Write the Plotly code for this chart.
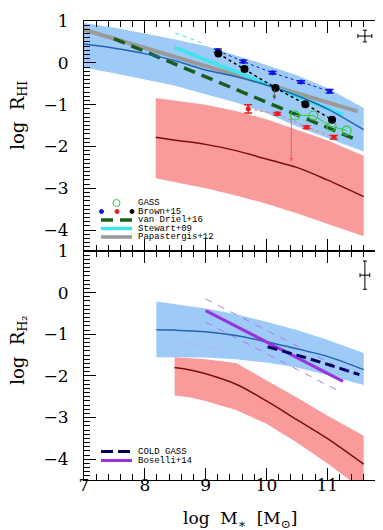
import plotly.graph_objects as go

# ---------------- data : top panel (log R_HI) ----------------
hi_band_x   = [7.0, 7.5, 8.0, 8.5, 9.0, 9.5, 10.0, 10.5, 11.0, 11.6]
hi_band_up  = [0.95, 0.84, 0.70, 0.56, 0.40, 0.18, -0.05, -0.30, -0.60, -1.08]
hi_band_lo  = [-0.12, -0.25, -0.40, -0.55, -0.75, -0.95, -1.20, -1.52, -1.80, -2.12]
hi_band_mid = [0.45, 0.35, 0.22, 0.05, -0.17, -0.33, -0.53, -0.78, -1.10, -1.60]

hi_red_x   = [8.18, 8.5, 9.0, 9.5, 10.0, 10.5, 11.0, 11.6]
hi_red_up  = [-0.84, -0.90, -1.00, -1.15, -1.35, -1.60, -1.85, -2.22]
hi_red_lo  = [-2.76, -2.85, -3.00, -3.17, -3.37, -3.60, -3.85, -4.15]
hi_red_mid = [-1.78, -1.85, -1.95, -2.10, -2.30, -2.50, -2.80, -3.20]

papastergis_x = [7.0, 11.5]
papastergis_y = [0.79, -1.16]
vandriel_x = [7.49, 11.42]
vandriel_y = [0.58, -1.80]
stewart_x = [8.49, 11.26]
stewart_y = [0.37, -1.24]
stewart_up_x = [8.50, 8.95]
stewart_up_y = [0.71, 0.47]

brown_blue_x = [9.20, 9.62, 10.10, 10.57, 11.04]
brown_blue_y = [0.29, 0.03, -0.24, -0.46, -0.68]
brown_blue_e = [0.04, 0.03, 0.03, 0.03, 0.04]
brown_black_x = [9.21, 9.64, 10.15, 10.64, 11.08]
brown_black_y = [0.22, -0.15, -0.60, -0.99, -1.36]
brown_black_e = [0.03, 0.03, 0.03, 0.03, 0.03]
brown_red_x = [9.70, 10.18, 10.66, 11.11]
brown_red_y = [-1.10, -1.22, -1.54, -1.78]
brown_red_e = [0.10, 0.03, 0.03, 0.04]
red_limit = dict(x=10.41, y0=-1.30, y1=-2.37)
black_limit = dict(x=10.13, y0=-0.62, y1=-0.88)

gass_x = [10.47, 10.77, 11.07, 11.32]
gass_y = [-1.26, -1.26, -1.52, -1.62]

hi_err_cross = dict(x=11.62, y=0.64, ex=0.115, ey=0.14)

# ---------------- data : bottom panel (log R_H2) ----------------
h2_band_x   = [8.19, 8.5, 9.0, 9.5, 10.0, 10.5, 11.0, 11.6]
h2_band_up  = [-0.21, -0.27, -0.38, -0.52, -0.70, -0.90, -1.13, -1.45]
h2_band_lo  = [-1.55, -1.55, -1.56, -1.60, -1.68, -1.80, -1.98, -2.22]
h2_band_mid = [-0.89, -0.90, -0.94, -1.03, -1.18, -1.35, -1.53, -1.85]

h2_red_x   = [8.49, 8.75, 9.0, 9.5, 10.0, 10.5, 11.0, 11.6]
h2_red_up  = [-1.55, -1.57, -1.60, -1.69, -2.10, -2.52, -2.95, -3.44]
h2_red_lo  = [-2.47, -2.52, -2.60, -2.82, -3.15, -3.60, -4.10, -4.75]
h2_red_mid = [-1.80, -1.86, -1.95, -2.20, -2.60, -3.05, -3.50, -4.12]

coldgass_x = [10.02, 10.5, 11.0, 11.53]
coldgass_y = [-1.30, -1.50, -1.72, -1.97]
boselli_x = [9.00, 11.26]
boselli_y = [-0.43, -2.13]
boselli_up_x = [9.00, 11.10]
boselli_up_y = [-0.15, -1.73]
boselli_lo_x = [9.00, 11.20]
boselli_lo_y = [-0.71, -2.37]
faint_x = [8.49, 9.26]
faint_y = [-1.12, -1.40]

h2_err_cross = dict(x=11.62, y=0.42, ex=0.08, ey=0.34)

# tick labels
x_ticks = [7, 8, 9, 10, 11]
y_ticks = [-4, -3, -2, -1, 0, 1]

# ---------------- styles ----------------
C_BAND_BLUE = "#9dcaf6"
C_BAND_RED = "#fa9b9b"
C_MID_BLUE = "#2263b4"
C_MID_RED = "#7d0c0c"
C_GRAY = "#9a9a9a"
C_CYAN = "#3fe3ea"
C_DGREEN = "#1b5e1b"
C_LGREEN = "#33cc33"
C_BLUE = "#1414e0"
C_RED = "#ee1c1c"
C_PURPLE = "#9933dd"
C_NAVY = "#00005e"

fig = go.Figure()


def band(x, up, lo, color, xa, ya):
    fig.add_trace(go.Scatter(x=list(x) + list(x)[::-1], y=list(up) + list(lo)[::-1],
                             fill="toself", fillcolor=color, line=dict(width=0),
                             mode="lines", hoverinfo="skip", showlegend=False,
                             xaxis=xa, yaxis=ya))


def line(x, y, color, width, dash="solid", xa="x", ya="y", shape="linear"):
    fig.add_trace(go.Scatter(x=x, y=y, mode="lines",
                             line=dict(color=color, width=width, dash=dash, shape=shape),
                             showlegend=False, xaxis=xa, yaxis=ya))


# ---- top panel (x2, y2) ----
band(hi_red_x, hi_red_up, hi_red_lo, C_BAND_RED, "x2", "y2")
band(hi_band_x, hi_band_up, hi_band_lo, C_BAND_BLUE, "x2", "y2")
line(hi_red_x, hi_red_mid, C_MID_RED, 1.5, xa="x2", ya="y2", shape="spline")
line(stewart_up_x, stewart_up_y, C_CYAN, 1, "4px,4px", "x2", "y2")
line(papastergis_x, papastergis_y, C_GRAY, 4, xa="x2", ya="y2")
line(stewart_x, stewart_y, C_CYAN, 3.5, xa="x2", ya="y2")
line(vandriel_x, vandriel_y, C_DGREEN, 3.5, "12px,7px", "x2", "y2")
line(hi_band_x, hi_band_mid, C_MID_BLUE, 1.5, xa="x2", ya="y2", shape="spline")

# Brown+15 points
fig.add_trace(go.Scatter(x=brown_blue_x, y=brown_blue_y, mode="lines+markers",
                         line=dict(color=C_BLUE, width=1, dash="dot"),
                         marker=dict(color=C_BLUE, size=5),
                         error_y=dict(type="data", array=brown_blue_e, color=C_BLUE, width=4, thickness=1.5),
                         showlegend=False, xaxis="x2", yaxis="y2"))
fig.add_trace(go.Scatter(x=brown_red_x, y=brown_red_y, mode="lines+markers",
                         line=dict(color="#f07070", width=1, dash="dot"),
                         marker=dict(color=C_RED, size=5),
                         error_y=dict(type="data", array=brown_red_e, color=C_RED, width=4, thickness=1.5),
                         showlegend=False, xaxis="x2", yaxis="y2"))
fig.add_trace(go.Scatter(x=gass_x, y=gass_y, mode="lines+markers",
                         line=dict(color=C_LGREEN, width=1),
                         marker=dict(color=C_LGREEN, size=9, symbol="circle-open",
                                     line=dict(color=C_LGREEN, width=1.2)),
                         showlegend=False, xaxis="x2", yaxis="y2"))
fig.add_trace(go.Scatter(x=brown_black_x, y=brown_black_y, mode="lines+markers",
                         line=dict(color="black", width=1.5, dash="dot"),
                         marker=dict(color="black", size=8),
                         error_y=dict(type="data", array=brown_black_e, color="black", width=3, thickness=1.5),
                         showlegend=False, xaxis="x2", yaxis="y2"))
fig.add_trace(go.Scatter(x=[hi_err_cross["x"]], y=[hi_err_cross["y"]], mode="markers",
                         marker=dict(size=1, color="black"),
                         error_x=dict(type="data", array=[hi_err_cross["ex"]], color="black", width=2, thickness=1),
                         error_y=dict(type="data", array=[hi_err_cross["ey"]], color="black", width=2, thickness=1),
                         showlegend=False, xaxis="x2", yaxis="y2"))

# ---- bottom panel (x, y) ----
band(h2_band_x, h2_band_up, h2_band_lo, C_BAND_BLUE, "x", "y")
band(h2_red_x, h2_red_up, h2_red_lo, C_BAND_RED, "x", "y")
line(h2_red_x, h2_red_mid, C_MID_RED, 1.5, shape="spline")
line(faint_x, faint_y, "#c9a0f0", 1, "2px,3px")
line(boselli_up_x, boselli_up_y, "#b377ee", 1, "7px,7px")
line(boselli_lo_x, boselli_lo_y, "#b377ee", 1, "7px,7px")
line(h2_band_x, h2_band_mid, C_MID_BLUE, 1.5, shape="spline")
line(boselli_x, boselli_y, C_PURPLE, 3)
line(coldgass_x, coldgass_y, C_NAVY, 3, "10px,5px", shape="spline")
fig.add_trace(go.Scatter(x=[h2_err_cross["x"]], y=[h2_err_cross["y"]], mode="markers",
                         marker=dict(size=1, color="black"),
                         error_x=dict(type="data", array=[h2_err_cross["ex"]], color="black", width=2, thickness=1),
                         error_y=dict(type="data", array=[h2_err_cross["ey"]], color="black", width=2, thickness=1),
                         showlegend=False, xaxis="x", yaxis="y"))

# ---- axes ----
TICKFONT = dict(family="DejaVu Serif", size=17, color="black")
common_x = dict(range=[7, 12], tickvals=x_ticks, ticks="inside", ticklen=12, tickwidth=1,
                tickcolor="black", mirror="allticks", showline=True, linecolor="black",
                linewidth=1.2, showgrid=False, zeroline=False, tickfont=TICKFONT,
                minor=dict(ticks="inside", ticklen=6, tickwidth=1, dtick=0.2, tick0=7,
                           tickcolor="black", showgrid=False))
common_y = dict(range=[-4.5, 1], tickvals=y_ticks, ticks="inside", ticklen=12, tickwidth=1,
                tickcolor="black", mirror="allticks", showline=True, linecolor="black",
                linewidth=1.2, showgrid=False, zeroline=False, tickfont=TICKFONT,
                ticklabelstandoff=11,
                minor=dict(ticks="inside", ticklen=6, tickwidth=1, dtick=0.1, tick0=0,
                           tickcolor="black", showgrid=False))

split = 0.4989
fig.update_layout(
    width=383, height=530,
    margin=dict(l=76, r=3, t=13, b=58),
    paper_bgcolor="white", plot_bgcolor="white",
    showlegend=False,
    xaxis=dict(**common_x, anchor="y", domain=[0, 1], ticklabelstandoff=-11),
    xaxis2=dict(**common_x, anchor="y2", domain=[0, 1], matches="x", showticklabels=False),
    yaxis=dict(**common_y, anchor="x", domain=[0, split]),
    yaxis2=dict(**common_y, anchor="x2", domain=[split, 1]),
)

# arrows (upper limits)
for lim, col in [(red_limit, "#f06060"), (black_limit, "#555555")]:
    fig.add_annotation(x=lim["x"], y=lim["y1"], ax=lim["x"], ay=lim["y0"],
                       xref="x2", yref="y2", axref="x2", ayref="y2",
                       showarrow=True, arrowhead=2, arrowsize=0.8, arrowwidth=1,
                       arrowcolor=col, text="")

# axis titles
TITLEFONT = dict(family="DejaVu Serif", size=18, color="black")
fig.add_annotation(text="log\u00a0\u00a0R<sub>HI</sub>", xref="paper", yref="paper",
                   x=-0.215, y=0.795, textangle=-90, showarrow=False, font=TITLEFONT,
                   xanchor="center", yanchor="middle")
fig.add_annotation(text="log\u00a0\u00a0R<sub>H\u2082</sub>", xref="paper", yref="paper",
                   x=-0.215, y=0.283, textangle=-90, showarrow=False, font=TITLEFONT,
                   xanchor="center", yanchor="middle")
fig.add_annotation(text="log\u00a0\u00a0M<sub>\u2217</sub>\u00a0\u00a0[M<sub>\u2299</sub>]",
                   xref="paper", yref="paper", x=0.513, y=-0.085, showarrow=False,
                   font=dict(family="DejaVu Serif", size=17, color="black"),
                   xanchor="center", yanchor="middle")

# ---- hand-made legends ----
LEGFONT = dict(family="Liberation Mono", size=9, color="black")
PXW, PXH_TOP, PXH_BOT = 304.0, 230.0, 229.0


def dx(px):
    return (px - 76) / PXW


def legend_text(txt, ypx, yref, h, ybase):
    fig.add_annotation(text=txt, xref="x domain", yref=yref, x=dx(129), y=(ybase - ypx) / h,
                       xanchor="left", yanchor="middle", showarrow=False, font=LEGFONT,
                       borderpad=0)


def legend_line(ypx, color, width, dash, xref, yref, h, ybase, x0=93, x1=124):
    fig.add_shape(type="line", xref=xref, yref=yref, x0=dx(x0), x1=dx(x1),
                  y0=(ybase - ypx) / h, y1=(ybase - ypx) / h,
                  line=dict(color=color, width=width, dash=dash), layer="above")


def legend_dot(xpx, ypx, d, color, fill, xref, yref, h, ybase):
    fig.add_shape(type="circle", xref=xref, yref=yref,
                  x0=dx(xpx - d / 2), x1=dx(xpx + d / 2),
                  y0=(ybase - ypx - d / 2) / h, y1=(ybase - ypx + d / 2) / h,
                  line=dict(color=color, width=1), fillcolor=fill, layer="above")


# top legend
legend_dot(108.5, 195, 7, C_LGREEN, "rgba(0,0,0,0)", "x2 domain", "y2 domain", PXH_TOP, 243)
legend_text("GASS", 195, "y2 domain", PXH_TOP, 243)
for xp, c in [(93.5, C_BLUE), (109, C_RED), (124, "black")]:
    legend_dot(xp, 203.5, 4, c, c, "x2 domain", "y2 domain", PXH_TOP, 243)
legend_text("Brown+15", 203.5, "y2 domain", PXH_TOP, 243)
legend_line(212, C_DGREEN, 3.5, "12px,7px", "x2 domain", "y2 domain", PXH_TOP, 243)
legend_text("van Driel+16", 212, "y2 domain", PXH_TOP, 243)
legend_line(220.5, C_CYAN, 3.5, "solid", "x2 domain", "y2 domain", PXH_TOP, 243)
legend_text("Stewart+09", 220.5, "y2 domain", PXH_TOP, 243)
legend_line(229, C_GRAY, 3.5, "solid", "x2 domain", "y2 domain", PXH_TOP, 243)
legend_text("Papastergis+12", 229, "y2 domain", PXH_TOP, 243)

# bottom legend
legend_line(443.5, C_NAVY, 3, "12px,5px", "x domain", "y domain", PXH_BOT, 472, x1=122)
legend_text("COLD GASS", 443.5, "y domain", PXH_BOT, 472)
legend_line(452.5, C_PURPLE, 3, "solid", "x domain", "y domain", PXH_BOT, 472)
legend_text("Boselli+14", 452.5, "y domain", PXH_BOT, 472)

fig.write_html("out.html")
